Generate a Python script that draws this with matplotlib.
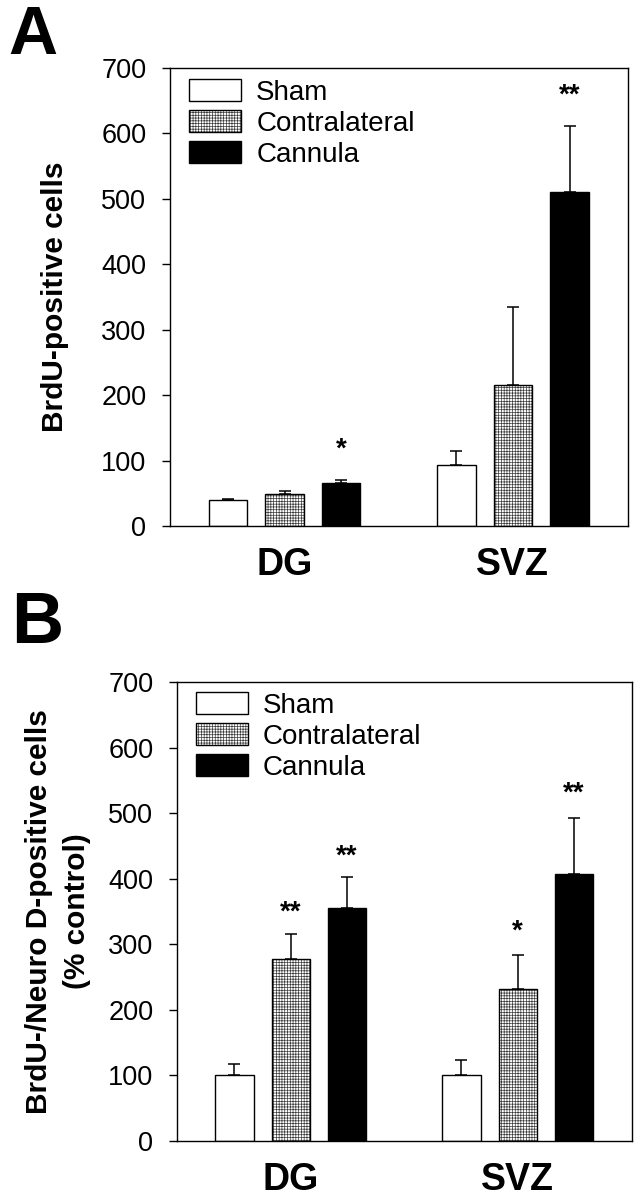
import matplotlib.pyplot as plt
from matplotlib.legend_handler import HandlerTuple
import numpy as np

plt.rcParams['font.family'] = ['Liberation Sans', 'DejaVu Sans']
plt.rcParams['hatch.linewidth'] = 0.5

regions = ['DG', 'SVZ']
groups = ['Sham', 'Contralateral', 'Cannula']

# panel A - BrdU-positive cells (counts)
a_sham = [39, 93]
a_sham_err = [3, 21]
a_contra = [49, 215]
a_contra_err = [5, 120]
a_cannula = [65, 510]
a_cannula_err = [5, 101]
a_stars = [['', ''], ['', ''], ['*', '**']]
a_star_y = [[0, 0], [0, 0], [117, 658]]

# panel B - BrdU/NeuroD-positive cells (% control)
b_sham = [100, 100]
b_sham_err = [18, 23]
b_contra = [278, 232]
b_contra_err = [37, 52]
b_cannula = [355, 407]
b_cannula_err = [47, 85]
b_stars = [['', ''], ['**', '*'], ['**', '**']]
b_star_y = [[0, 0], [348, 320], [433, 530]]

centers = np.array([1.0, 5.03])
offsets = [-1, 0, 1]
width = 0.68


def draw_panel(ax, means, errs, stars, star_y, ylabel, label_x, legend_x, legend_y):
    handles = []
    for i, (m, e) in enumerate(zip(means, errs)):
        x = centers + offsets[i]
        if i == 0:
            h = ax.bar(x, m, width, color='white', edgecolor='black', linewidth=1.0, zorder=2)
        elif i == 1:
            fill = ax.bar(x, m, width, color='white', edgecolor='#3a3a3a', hatch='++++++',
                          linewidth=0, zorder=2)
            edge = ax.bar(x, m, width, color='none', edgecolor='black', linewidth=1.0, zorder=3)
            h = (fill, edge)
        else:
            h = ax.bar(x, m, width, color='black', edgecolor='black', linewidth=1.0, zorder=2)
        handles.append(h)
        ax.errorbar(x, m, yerr=[np.zeros(len(e)), e], fmt='none', ecolor='black',
                    elinewidth=1.1, capsize=4, capthick=1.1, zorder=1)
        for xi, s, yi in zip(x, stars[i], star_y[i]):
            if s:
                ax.text(xi, yi, s, ha='center', va='center', fontsize=20, fontweight='bold')

    ax.set_xlim(-1.02, 7.06)
    ax.set_ylim(0, 700)
    ax.set_yticks(range(0, 701, 100))
    ax.tick_params(axis='y', direction='out', length=6, width=1, labelsize=19.5, pad=11)
    ax.set_xticks(centers, regions, fontsize=27, fontweight='bold')
    ax.tick_params(axis='x', length=0, pad=15)
    for sp in ax.spines.values():
        sp.set_linewidth(1.0)

    ax.set_ylabel(ylabel, fontsize=21.5, fontweight='bold', ha='center', va='center', linespacing=1.45)
    ax.yaxis.set_label_coords(label_x, 0.5)

    ax.legend(handles, groups, loc='upper left', bbox_to_anchor=(legend_x, legend_y),
              frameon=False, fontsize=20, handlelength=1.87, handleheight=0.86,
              handletextpad=0.55, labelspacing=0.15, borderpad=0, borderaxespad=0,
              handler_map={tuple: HandlerTuple(ndivide=1, pad=0)})


fig = plt.figure(figsize=(6.43, 11.99), dpi=100)
W, H = 643, 1199
ax_a = fig.add_axes([170 / W, 1 - 526 / H, 458 / W, 458 / H])
ax_b = fig.add_axes([177 / W, 1 - 1141 / H, 455 / W, 459 / H])

draw_panel(ax_a, [a_sham, a_contra, a_cannula], [a_sham_err, a_contra_err, a_cannula_err],
           a_stars, a_star_y, 'BrdU-positive cells', -0.251, 0.0415, 0.976)
draw_panel(ax_b, [b_sham, b_contra, b_cannula], [b_sham_err, b_contra_err, b_cannula_err],
           b_stars, b_star_y, 'BrdU-/Neuro D-positive cells\n(% control)', -0.262, 0.041, 0.978)

fig.text(8 / W, 1 - 4 / H, 'A', fontsize=49, fontweight='bold', va='top', ha='left')
fig.text(11 / W, 1 - 590 / H, 'B', fontsize=52, fontweight='bold', va='top', ha='left')

fig.savefig('out.png', dpi=100)
